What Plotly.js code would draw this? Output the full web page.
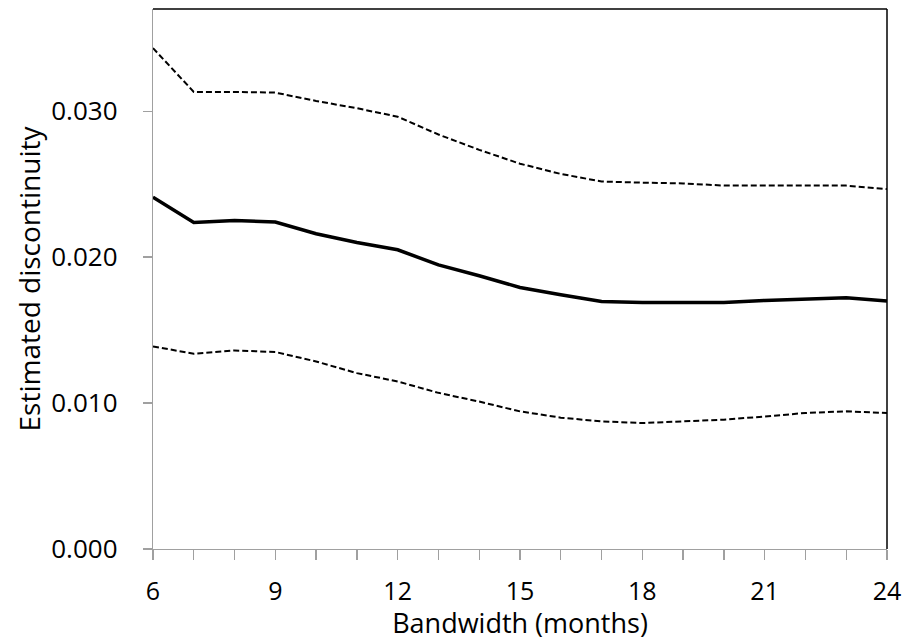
<!DOCTYPE html>
<html>
<head>
<meta charset="utf-8">
<script src="https://cdn.plot.ly/plotly-3.0.1.min.js"></script>
<style>html,body{margin:0;padding:0;background:#fff;}#chart{width:906px;height:641px;}</style>
</head>
<body>
<div id="chart"></div>
<script>
const bandwidth = [6,7,8,9,10,11,12,13,14,15,16,17,18,19,20,21,22,23,24];
const estimate = [0.02411,0.02237,0.02251,0.02240,0.02160,0.02100,0.02050,0.01947,0.01872,0.01792,0.01742,0.01696,0.01689,0.01689,0.01689,0.01703,0.01714,0.01721,0.01699];
const upperCI = [0.03432,0.03132,0.03132,0.03127,0.03070,0.03020,0.02962,0.02840,0.02735,0.02640,0.02570,0.02518,0.02510,0.02505,0.02490,0.02490,0.02492,0.02490,0.02466];
const lowerCI = [0.01388,0.01338,0.01360,0.01350,0.01285,0.01205,0.01148,0.01070,0.01010,0.00943,0.00900,0.00874,0.00863,0.00872,0.00886,0.00908,0.00932,0.00943,0.00932];
const xTickVals = [6,9,12,15,18,21,24];
const yTickVals = [0,0.01,0.02,0.03];

const FONT = 'Open Sans, Noto Sans, sans-serif';
const dashedStyle = {color:'#000', width:2, dash:'6px,3px'};

const traces = [
  {x:bandwidth, y:upperCI, mode:'lines', line:dashedStyle, showlegend:false, hoverinfo:'skip'},
  {x:bandwidth, y:lowerCI, mode:'lines', line:dashedStyle, showlegend:false, hoverinfo:'skip'},
  {x:bandwidth, y:estimate, mode:'lines', line:{color:'#000', width:3.5}, showlegend:false}
];

const layout = {
  width:906, height:641,
  margin:{l:153, r:19, t:9, b:92},
  paper_bgcolor:'#fff', plot_bgcolor:'#fff',
  font:{family:FONT, size:26, color:'#000'},
  showlegend:false,
  xaxis:{
    range:[6,24], tickvals:xTickVals, ticktext:xTickVals.map(String),
    showgrid:false, zeroline:false,
    showline:true, linecolor:'#a0a0a0', linewidth:1.3,
    ticks:'outside', ticklen:10, tickcolor:'#a0a0a0', tickwidth:1.3,
    minor:{dtick:1, tick0:6, ticks:'outside', ticklen:10, tickcolor:'#a0a0a0', tickwidth:1.3, showgrid:false},
    tickfont:{family:FONT, size:25, color:'#000'},
    ticklabelstandoff:10,
    title:{text:'Bandwidth (months)', font:{family:FONT, size:27, color:'#000'}, standoff:3}
  },
  yaxis:{
    range:[0,0.037], tickvals:yTickVals, tickformat:'.3f',
    showgrid:false, zeroline:false,
    showline:true, linecolor:'#a0a0a0', linewidth:1.3,
    ticks:'outside', ticklen:9, tickcolor:'#a0a0a0', tickwidth:1.3,
    tickfont:{family:FONT, size:26, color:'#000'},
    ticklabelstandoff:20,
    title:{text:'Estimated discontinuity', font:{family:FONT, size:28, color:'#000'}, standoff:2}
  },
  shapes:[
    {type:'line', xref:'paper', yref:'paper', x0:0, x1:1, y0:1, y1:1, line:{color:'#000', width:1.5}},
    {type:'line', xref:'paper', yref:'paper', x0:1, x1:1, y0:0, y1:1, line:{color:'#000', width:1.5}}
  ]
};

Plotly.newPlot('chart', traces, layout, {displayModeBar:false, staticPlot:true});
</script>
</body>
</html>
